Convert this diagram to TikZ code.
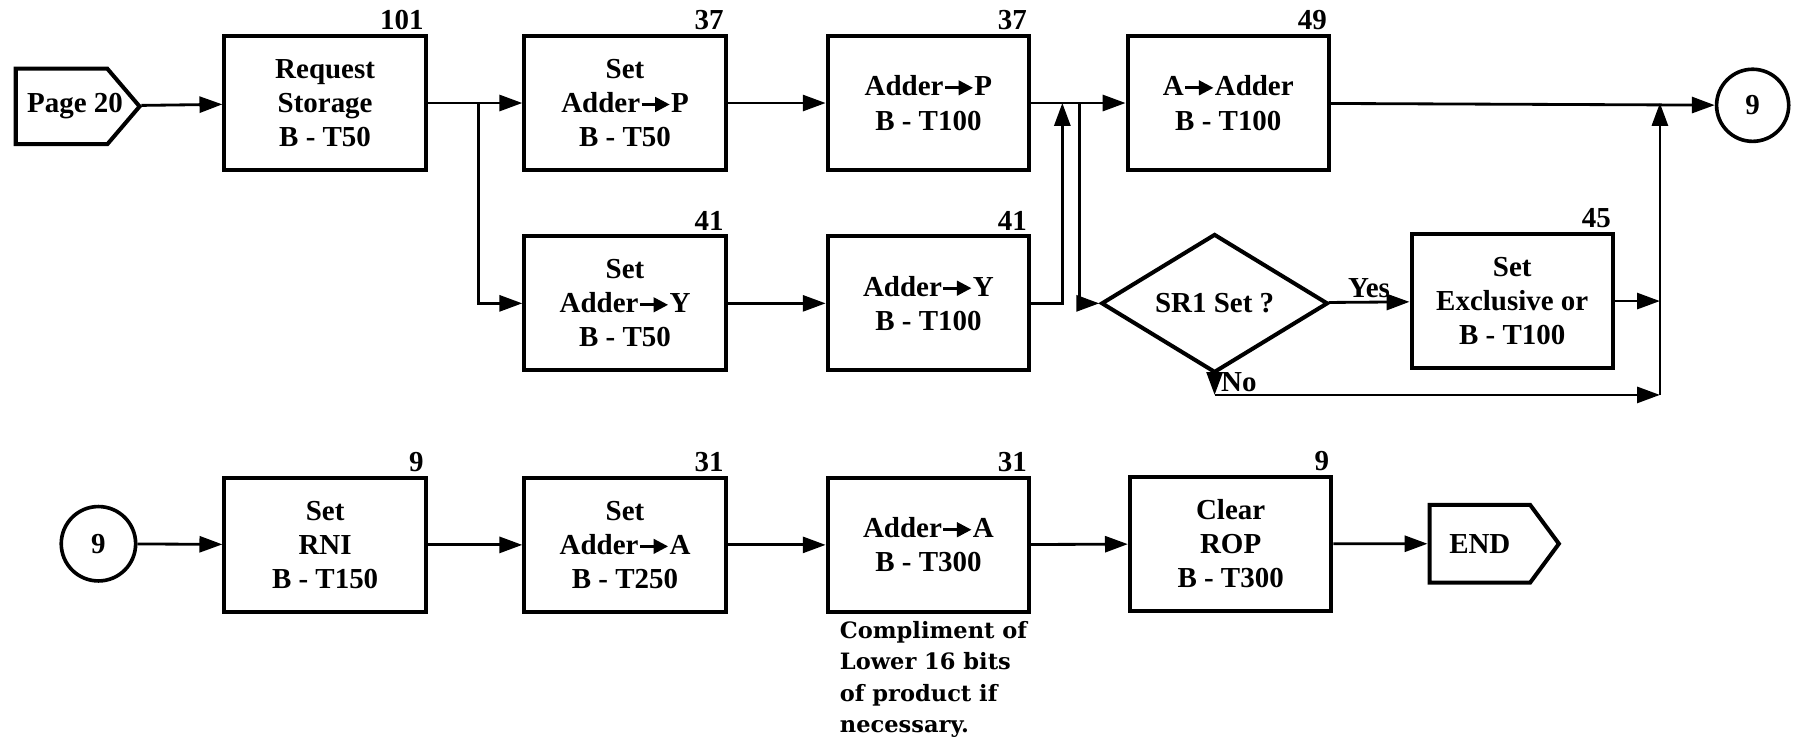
\documentclass[tikz,border=0pt]{standalone}
\usepackage{fontspec}
\setmainfont{Liberation Serif}
\newfontfamily\notefont{DejaVu Serif}
\usetikzlibrary{arrows.meta,shapes.geometric,shapes.symbols}

% small filled arrow used inside the box texts
\newcommand{\tofill}{\tikz[baseline=-0.6ex]\draw[line width=0.7pt,-{Triangle[length=3.6pt,width=3.6pt]}] (0,0) -- (7pt,0);}

\begin{document}
\begin{tikzpicture}[>={Triangle[length=2mm,width=1.4mm]}, x=0.1mm, y=-0.1mm,
    font=\fontsize{7.2}{8.5}\selectfont\bfseries,
    blk/.style={draw, line width=1pt, minimum width=17.6mm, minimum height=11.7mm, align=center, inner sep=0pt},
    num/.style={anchor=south east, inner sep=0.3mm},
    link/.style={line width=0.7pt},
    tag/.style={draw, line width=1pt, shape=signal, signal to=east, inner sep=0pt, anchor=west},
    conn/.style={draw, circle, line width=0.9pt, minimum size=6.3mm, inner sep=0pt},
    decide/.style={draw, diamond, line width=1pt, minimum width=19.8mm, minimum height=11.8mm, inner sep=0pt}]
    \useasboundingbox (0,0) rectangle (1568,653);

    % Top row
    \node[tag, minimum width=10.8mm, minimum height=6.6mm, signal pointer angle=99] (pg) at (12,93) {\raisebox{-0.8mm}{\makebox[8mm][l]{\hspace{1mm}Page 20}}};
    \node[blk] (rs) at (284,90) {Request\\Storage\\B - T50};
    \node[blk] (sp) at (546,90) {Set\\Adder\tofill P\\B - T50};
    \node[blk] (ap) at (811,90) {Adder\tofill P\\B - T100};
    \node[blk] (aa) at (1073,90) {A\tofill Adder\\B - T100};
    \node[conn] (c9t) at (1531,92) {9};
    \node[num] (n101) at (rs.north east) {101};
    \node[num] (n37a) at (sp.north east) {37};
    \node[num] (n37b) at (ap.north east) {37};
    \node[num] (n49) at (aa.north east) {49};

    % Middle row
    \node[blk] (sy) at (546,265) {Set\\Adder\tofill Y\\B - T50};
    \node[blk] (ay) at (811,265) {Adder\tofill Y\\B - T100};
    \node[decide] (sr) at (1061,265) {SR1 Set ?};
    \node[blk] (xo) at (1321,263) {Set\\Exclusive or\\B - T100};
    \node[num] (n41a) at (sy.north east) {41};
    \node[num] (n41b) at (ay.north east) {41};
    \node[num] (n45) at (xo.north east) {45};

    % Bottom row
    \node[conn, minimum size=6.5mm] (c9b) at (86,475) {9};
    \node[blk] (rn) at (284,476) {Set\\RNI\\B - T150};
    \node[blk] (sa) at (546,476) {Set\\Adder\tofill A\\B - T250};
    \node[blk] (aA) at (811,476) {Adder\tofill A\\B - T300};
    \node[blk] (cr) at (1075,475) {Clear\\ROP\\B - T300};
    \node[tag, minimum width=11.3mm, minimum height=6.8mm, signal pointer angle=107] (fin) at (1247,475) {END};
    \node[num] (n9a) at (rn.north east) {9};
    \node[num] (n31a) at (sa.north east) {31};
    \node[num] (n31b) at (aA.north east) {31};
    \node[num] (n9b) at (cr.north east) {9};
    \node[anchor=north west, align=left, inner sep=0pt, font=\notefont\bfseries\fontsize{5.6}{7.8}\selectfont] (note) at (733,542)
        {Compliment of\\Lower 16 bits\\of product if\\necessary.};

    % junction points
    \coordinate (split) at (418,90);
    \coordinate (upj) at (928,90);
    \coordinate (dnj) at (943,90);
    \coordinate (mrg) at (1450,90);
    \coordinate (nobend) at (1061,345);
    \coordinate (nomrg) at (1450,345);

    % connectors, top and middle
    \draw[link,->] (pg) -- (rs);
    \draw[link,->] (rs) -- (sp);
    \draw[link,->] (split) |- (sy);
    \draw[link,->] (sp) -- (ap);
    \draw[link,->] (sy) -- (ay);
    \draw[link,->] (ap) -- (aa);
    \draw[link,->] (ay) -| (upj);
    \draw[link,->] (dnj) |- (sr);
    \draw[link,->] (aa) -- (c9t);
    \draw[link,->] (sr) -- node[above, inner sep=0.3mm] (yes) {Yes} (xo);
    \draw[link,->] (sr.south) -- (nobend);
    \node[anchor=west, inner sep=0pt] (no) at (1066,334) {No};
    \draw[link,->] (nobend) -- (nomrg);
    \draw[link,->] (xo) -- (xo.east -| mrg);
    \draw[link,->] (nomrg) -- (mrg);

    % connectors, bottom
    \draw[link,->] (c9b) -- (rn);
    \draw[link,->] (rn) -- (sa);
    \draw[link,->] (sa) -- (aA);
    \draw[link,->] (aA) -- (cr);
    \draw[link,->] (cr) -- (fin);
\end{tikzpicture}
\end{document}
